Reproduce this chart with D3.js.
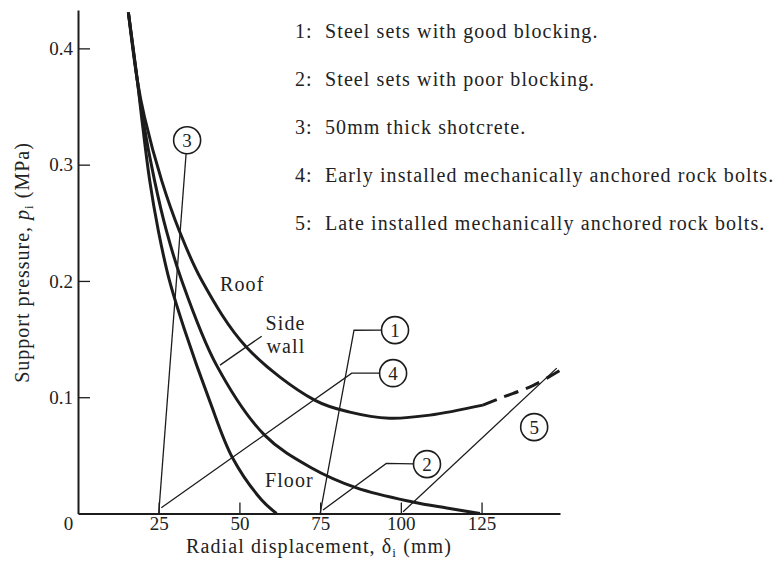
<!DOCTYPE html>
<html>
<head>
<meta charset="utf-8">
<script src="https://cdn.jsdelivr.net/npm/d3@7"></script>
<style>
  html, body { margin: 0; padding: 0; background: #fff; }
  svg { display: block; }
  text { font-family: "Liberation Serif", "Times New Roman", serif; fill: #222; }
</style>
</head>
<body>
<svg id="chart" width="782" height="562"></svg>
<script>
// ---------- data ----------
// characteristic curves: radial displacement (mm) vs support pressure (MPa)
const roofDisp   = [15.6, 18.4, 20.6, 25.9, 31.4, 38.3, 52.2, 73.3, 84.2, 96.5, 109.0, 125.4];
const roofPress  = [0.431, 0.372, 0.341, 0.2865, 0.243, 0.2006, 0.143, 0.0975, 0.0872, 0.082, 0.0846, 0.0932];
const roofDashDisp  = [125.4, 131.6, 140.9, 149.3];
const roofDashPress = [0.0932, 0.100, 0.110, 0.123];

const sideDisp  = [15.6, 18.4, 20.0, 23.7, 27.4, 32.1, 42.9, 57.8, 71.8, 86.3, 103.7, 114.2, 124.5];
const sidePress = [0.431, 0.372, 0.341, 0.2865, 0.243, 0.2006, 0.1276, 0.0674, 0.040, 0.022, 0.0099, 0.0047, 0.0];

const floorDisp  = [15.6, 18.4, 19.7, 22.2, 24.9, 28.3, 33.0, 40.7, 47.9, 56.9, 61.5];
const floorPress = [0.431, 0.372, 0.341, 0.2865, 0.243, 0.2006, 0.158, 0.0975, 0.0477, 0.0116, 0.0];

// support reaction lines 1..5
const supportIds    = ["1", "2", "3", "4", "5"];
const supStartDisp  = [75, 75.9, 25, 25.8, 100.7];
const supStartPress = [0, 0.003, 0, 0.005, 0.0015];
const supElbowDisp  = [85.5, 95.5, null, 84.8, 148.3];
const supElbowPress = [0.1576, 0.0431, null, 0.1207, 0.125];
const labelDisp     = [98.2, 108.1, 33.8, 97.6, 141.3];
const labelPress    = [0.1577, 0.0425, 0.321, 0.1207, 0.0743];
const labelLinked   = [true, true, true, true, false];

// curve names
const curveNames = ["Roof", "Side", "wall", "Floor"];
const curveNameDisp  = [44.0, 58.1, 58.4, 57.9];
const curveNamePress = [0.191, 0.1576, 0.138, 0.023];
const sideLeaderDisp  = [44.0, 56.9];
const sideLeaderPress = [0.1276, 0.1525];

// legend
const legendNums  = ["1:", "2:", "3:", "4:", "5:"];
const legendTexts = [
  "Steel sets with good blocking.",
  "Steel sets with poor blocking.",
  "50mm thick shotcrete.",
  "Early installed mechanically anchored rock bolts.",
  "Late installed mechanically anchored rock bolts."
];

// axes
const xTicks = [0, 25, 50, 75, 100, 125];
const yTicks = [0.1, 0.2, 0.3, 0.4];
const xDomainMax = 149.3;
const yDomainMax = 0.433;

// ---------- drawing ----------
const svg = d3.select("#chart");
const ink = "#1c1c1c";

const x = d3.scaleLinear().domain([0, xDomainMax]).range([78, 560]);
const y = d3.scaleLinear().domain([0, yDomainMax]).range([513.5, 10]);

// axes
const xAxis = svg.append("g")
  .attr("transform", `translate(0,${y(0)})`)
  .call(d3.axisBottom(x).tickValues(xTicks).tickSize(-11).tickSizeOuter(0).tickPadding(3));
const yAxis = svg.append("g")
  .attr("transform", `translate(${x(0)},0)`)
  .call(d3.axisLeft(y).tickValues(yTicks).tickFormat(d3.format(".1f")).tickSize(-12).tickSizeOuter(0).tickPadding(5));

[xAxis, yAxis].forEach(g => {
  g.select(".domain").attr("stroke", ink).attr("stroke-width", 2);
  g.selectAll(".tick line").attr("stroke", ink).attr("stroke-width", 1.3);
  g.selectAll(".tick text")
    .attr("fill", "#222")
    .style("font-family", '"Liberation Serif", "Times New Roman", serif')
    .style("font-size", "19px");
});
xAxis.selectAll(".tick").filter(d => d === 0).select("line").remove();
xAxis.selectAll(".tick").filter(d => d === 0).select("text").attr("x", -10);

// axis titles
const yTitle = svg.append("text")
  .attr("transform", `translate(28.5,262.5) rotate(-90)`)
  .attr("text-anchor", "middle")
  .style("font-size", "20px").style("letter-spacing", "1px");
yTitle.append("tspan").text("Support pressure, ");
yTitle.append("tspan").attr("font-style", "italic").text("p");
yTitle.append("tspan").attr("dy", 4).style("font-size", "13px").text("i");
yTitle.append("tspan").attr("dy", -4).text(" (MPa)");

const xTitle = svg.append("text")
  .attr("x", 319).attr("y", 553)
  .attr("text-anchor", "middle")
  .style("font-size", "20px").style("letter-spacing", "1.1px");
xTitle.append("tspan").text("Radial displacement, δ");
xTitle.append("tspan").attr("dy", 4).style("font-size", "13px").text("i");
xTitle.append("tspan").attr("dy", -4).text(" (mm)");

// curves
const line = d3.line().x(d => x(d[0])).y(d => y(d[1])).curve(d3.curveCatmullRom.alpha(0.5));
const zip = (a, b) => a.map((v, i) => [v, b[i]]);

const curves = [
  { pts: zip(roofDisp, roofPress), dash: null },
  { pts: zip(roofDashDisp, roofDashPress), dash: "15,8" },
  { pts: zip(sideDisp, sidePress), dash: null },
  { pts: zip(floorDisp, floorPress), dash: null }
];
svg.append("g").selectAll("path").data(curves).join("path")
  .attr("d", d => line(d.pts))
  .attr("fill", "none")
  .attr("stroke", ink)
  .attr("stroke-width", 3)
  .attr("stroke-dasharray", d => d.dash);

// support lines + circled labels
const r = 13.5;
const sup = svg.append("g");
supportIds.forEach((id, i) => {
  const cx = x(labelDisp[i]), cy = y(labelPress[i]);
  const pts = [[x(supStartDisp[i]), y(supStartPress[i])]];
  if (supElbowDisp[i] !== null) pts.push([x(supElbowDisp[i]), y(supElbowPress[i])]);
  if (labelLinked[i]) {
    const last = pts[pts.length - 1];
    const dx = cx - last[0], dy = cy - last[1];
    const len = Math.hypot(dx, dy);
    pts.push([cx - dx / len * r, cy - dy / len * r]);
  }
  sup.append("path")
    .attr("d", d3.line()(pts))
    .attr("fill", "none")
    .attr("stroke", ink)
    .attr("stroke-width", 1.3);
  sup.append("circle")
    .attr("cx", cx).attr("cy", cy).attr("r", r)
    .attr("fill", "#fff").attr("stroke", ink).attr("stroke-width", 1.6);
  sup.append("text")
    .attr("x", cx).attr("y", cy)
    .attr("text-anchor", "middle").attr("dy", "0.35em")
    .style("font-size", "19px")
    .text(id);
});

// side wall leader
svg.append("path")
  .attr("d", d3.line()(zip(sideLeaderDisp, sideLeaderPress).map(d => [x(d[0]), y(d[1])])))
  .attr("stroke", ink).attr("stroke-width", 1.3).attr("fill", "none");

// curve names
svg.append("g").selectAll("text").data(curveNames).join("text")
  .attr("x", (d, i) => x(curveNameDisp[i]))
  .attr("y", (d, i) => y(curveNamePress[i]))
  .style("font-size", "20px").style("letter-spacing", "1.1px")
  .text(d => d);

// legend
const leg = svg.append("g");
legendNums.forEach((n, i) => {
  leg.append("text").attr("x", 295).attr("y", 38 + 48 * i)
    .style("font-size", "20px").style("letter-spacing", "1.1px").text(n);
  leg.append("text").attr("x", 325).attr("y", 38 + 48 * i)
    .style("font-size", "20px").style("letter-spacing", "1.1px").text(legendTexts[i]);
});
</script>
</body>
</html>
